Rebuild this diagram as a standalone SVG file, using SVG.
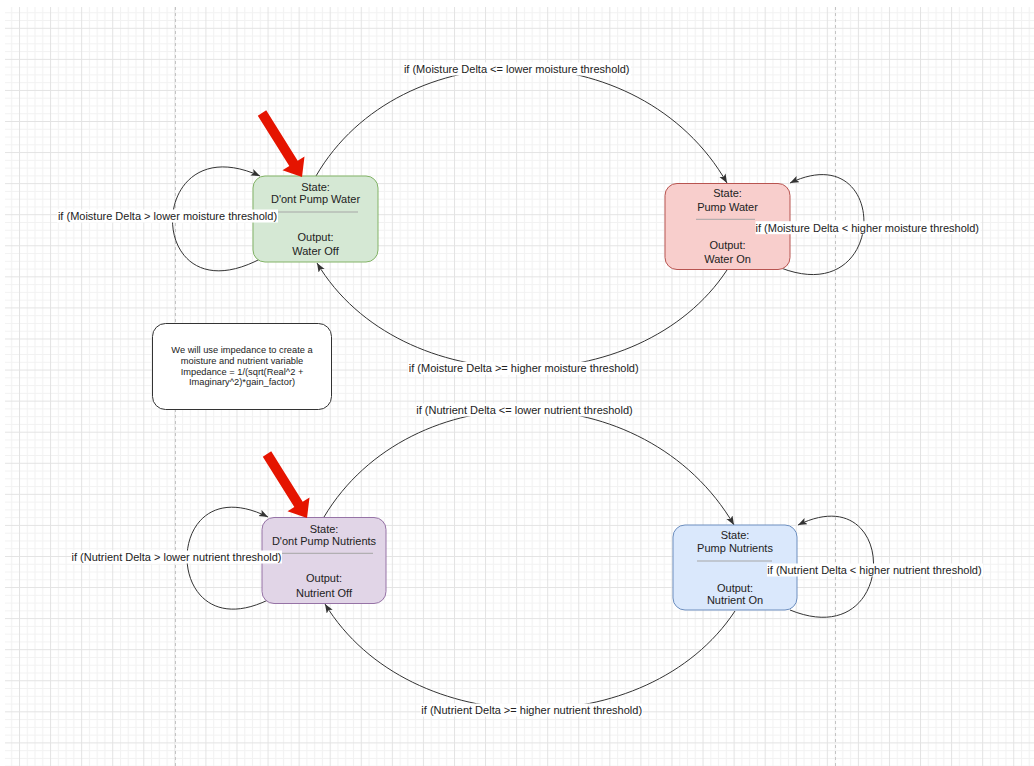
<svg xmlns="http://www.w3.org/2000/svg" width="1034" height="766" viewBox="0 0 1034 766">
<style>
.lbl{font-family:"Liberation Sans",Arial,sans-serif;font-size:11px;fill:#222;text-anchor:middle;dominant-baseline:central}
.note{font-family:"Liberation Sans",Arial,sans-serif;font-size:9.3px;fill:#222;text-anchor:middle;dominant-baseline:central}
.edge{fill:none;stroke:#333;stroke-width:1;marker-end:url(#ah)}
.bg{fill:#fff}
.sep{stroke:#a6a6a6;stroke-width:1}
.red{fill:#e51400}
</style>
<defs>
<pattern id="grid" patternUnits="userSpaceOnUse" x="19" y="27.8" width="31.07" height="31.07">
<rect width="31.07" height="31.07" fill="#fff"/>
<path d="M8.27 0V31.07M16.03 0V31.07M23.8 0V31.07M0 8.27H31.07M0 16.03H31.07M0 23.8H31.07" stroke="#f2f2f2" stroke-width="1"/>
<path d="M0.5 0V31.07M0 0.5H31.07" stroke="#e3e3e3" stroke-width="1"/>
</pattern>
<marker id="ah" markerUnits="userSpaceOnUse" markerWidth="10" markerHeight="8" refX="9" refY="3.5" orient="auto">
<path d="M0,0 L9,3.5 L0,7 L2,3.5 z" fill="#333"/>
</marker>
</defs>
<rect width="1034" height="766" fill="#fff"/>
<rect x="5" y="7" width="1029" height="759" fill="url(#grid)"/>
<path d="M175.5 7V766M835.5 7V766" stroke="#c4c4c4" stroke-width="1" stroke-dasharray="3,3"/>

<g id="connectors">
<path class="edge" d="M316,176 C400,31 640,31 727,183"/>
<path class="edge" d="M727,270 C640,402 400,402 317,263"/>
<path class="edge" d="M262,258 C143,322 143,123 260,176"/>
<path class="edge" d="M781,268 C890,310 890,135 790,183"/>
<path class="edge" d="M324,517 C410,373 645,373 734,525"/>
<path class="edge" d="M735,611 C648,743 410,743 325,604"/>
<path class="edge" d="M268,600 C160,652 160,463 268,517"/>
<path class="edge" d="M790,610 C900,655 900,475 798,525"/>
</g>

<g id="node-dont-pump-water">
<rect x="253" y="176" width="125" height="86" rx="12" fill="#d5e8d4" stroke="#82b366"/>
<text class="lbl" x="315.5" y="187.3">State:</text>
<text class="lbl" x="315.5" y="199.3">D'ont Pump Water</text>
<line class="sep" x1="272" y1="212" x2="358" y2="212"/>
<text class="lbl" x="315.5" y="237.3">Output:</text>
<text class="lbl" x="315.5" y="250.7">Water Off</text>
</g>

<g id="node-pump-water">
<rect x="665" y="183.5" width="125" height="86" rx="12" fill="#f8cecc" stroke="#b85450"/>
<text class="lbl" x="727.5" y="193.3">State:</text>
<text class="lbl" x="727.5" y="206.7">Pump Water</text>
<line class="sep" x1="696" y1="219.3" x2="755" y2="219.3"/>
<text class="lbl" x="727.5" y="245">Output:</text>
<text class="lbl" x="727.5" y="259">Water On</text>
</g>

<g id="node-dont-pump-nutrients">
<rect x="262" y="517.5" width="124" height="86" rx="12" fill="#e1d5e7" stroke="#9673a6"/>
<text class="lbl" x="324" y="529">State:</text>
<text class="lbl" x="324" y="540.7">D'ont Pump Nutrients</text>
<line class="sep" x1="272" y1="553.3" x2="373" y2="553.3"/>
<text class="lbl" x="324" y="578.3">Output:</text>
<text class="lbl" x="324" y="592.7">Nutrient Off</text>
</g>

<g id="node-pump-nutrients">
<rect x="673" y="525" width="124" height="85" rx="12" fill="#dae8fc" stroke="#6c8ebf"/>
<text class="lbl" x="735" y="535">State:</text>
<text class="lbl" x="735" y="548.3">Pump Nutrients</text>
<line class="sep" x1="697" y1="561" x2="772" y2="561"/>
<text class="lbl" x="735" y="587.7">Output:</text>
<text class="lbl" x="735" y="600">Nutrient On</text>
</g>

<g id="note-impedance">
<rect x="152.5" y="323.5" width="179" height="86" rx="13" fill="#fff" stroke="#333"/>
<text class="note" x="242" y="350">We will use impedance to create a</text>
<text class="note" x="242" y="360.7">moisture and nutrient variable</text>
<text class="note" x="242" y="371.5">Impedance = 1/(sqrt(Real^2 +</text>
<text class="note" x="242" y="382.3">Imaginary^2)*gain_factor)</text>
</g>

<g id="edge-labels">
<rect class="bg" x="403" y="62.5" width="228" height="13"/>
<text class="lbl" x="516.7" y="69">if (Moisture Delta &lt;= lower moisture threshold)</text>
<rect class="bg" x="408" y="361.8" width="232" height="13"/>
<text class="lbl" x="523.7" y="368.3">if (Moisture Delta &gt;= higher moisture threshold)</text>
<rect class="bg" x="57" y="209.5" width="221" height="13"/>
<text class="lbl" x="167.5" y="216">if (Moisture Delta &gt; lower moisture threshold)</text>
<rect class="bg" x="755.5" y="221.2" width="225" height="13"/>
<text class="lbl" x="867.3" y="227.7">if (Moisture Delta &lt; higher moisture threshold)</text>
<rect class="bg" x="415.5" y="403.5" width="218" height="13"/>
<text class="lbl" x="524.5" y="410">if (Nutrient Delta &lt;= lower nutrient threshold)</text>
<rect class="bg" x="420.5" y="703.5" width="222" height="13"/>
<text class="lbl" x="531.7" y="710">if (Nutrient Delta &gt;= higher nutrient threshold)</text>
<rect class="bg" x="71" y="550.5" width="211" height="13"/>
<text class="lbl" x="176.5" y="557">if (Nutrient Delta &gt; lower nutrient threshold)</text>
<rect class="bg" x="767" y="563.5" width="216" height="13"/>
<text class="lbl" x="874.5" y="570">if (Nutrient Delta &lt; higher nutrient threshold)</text>
</g>

<g id="red-arrow-water">
<polygon class="red" points="266.2,110.3 297.7,160.7 304.5,156.5 302,177 282.5,170.3 289.3,166.1 257.8,115.7"/>
</g>
<g id="red-arrow-nutrients">
<polygon class="red" transform="translate(5,341)" points="266.2,110.3 297.7,160.7 304.5,156.5 302,177 282.5,170.3 289.3,166.1 257.8,115.7"/>
</g>
</svg>
